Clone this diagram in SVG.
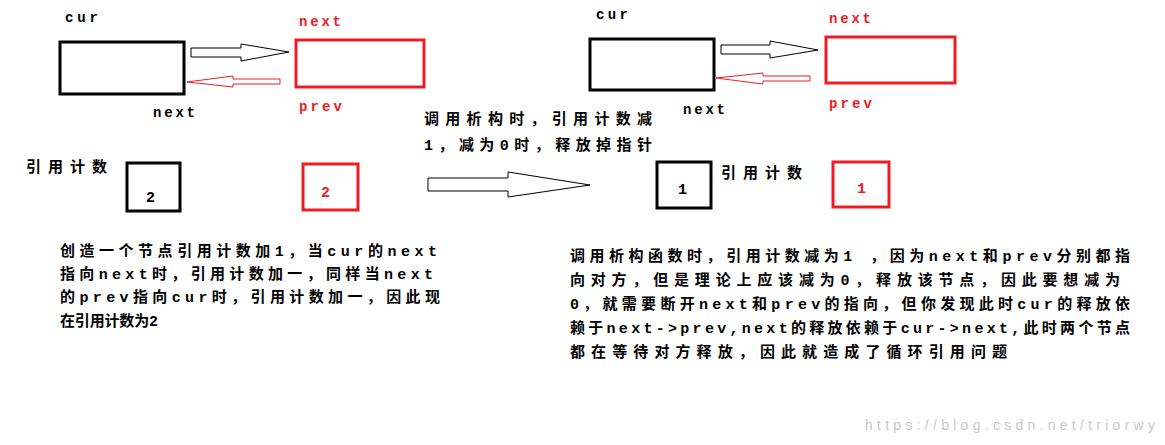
<svg xmlns="http://www.w3.org/2000/svg" width="1165" height="445" viewBox="0 0 1165 445">
<style>
.b{fill:none;stroke:#000;stroke-width:3}
.r{fill:none;stroke:#ed1c24;stroke-width:3}
.m{font-family:"Liberation Mono",monospace;font-weight:bold;font-size:14px}
.c{font-family:"Liberation Mono","Noto Sans CJK SC",monospace;font-size:15px;fill:#000;font-weight:bold}
.red{fill:#ed1c24}
.ar{fill:#fff;stroke:#000;stroke-width:1}
.arr{fill:#fff;stroke:#ed1c24;stroke-width:1}
</style>
<rect width="1165" height="445" fill="#fff"/>
<g id="left-cur"><rect class="b" x="60" y="42" width="124" height="52"/><text class="m" x="65" y="22" textLength="33">cur</text><text class="m" x="153" y="117" textLength="42">next</text></g>
<g id="left-next"><rect class="r" x="296" y="40" width="128" height="47"/><text class="m red" x="299" y="26" textLength="42">next</text><text class="m red" x="299" y="111" textLength="43">prev</text></g>
<g id="left-count-cur"><rect class="b" x="127" y="163" width="53" height="48"/><text class="c" x="146" y="202" font-weight="normal">2</text></g>
<g id="left-count-next"><rect class="r" x="303" y="164" width="55" height="46"/><text class="c red" x="321" y="197" font-weight="normal">2</text></g>
<text class="c" x="26" y="172" textLength="81">引用计数</text>
<g id="right-cur"><rect class="b" x="590" y="39" width="124" height="51"/><text class="m" x="596" y="19" textLength="32">cur</text><text class="m" x="683" y="114" textLength="42">next</text></g>
<g id="right-next"><rect class="r" x="826" y="37" width="129" height="46"/><text class="m red" x="829" y="23" textLength="42">next</text><text class="m red" x="829" y="108" textLength="43">prev</text></g>
<g id="right-count-cur"><rect class="b" x="657" y="162" width="54" height="46"/><text class="c" x="678" y="194" font-weight="normal">1</text></g>
<g id="right-count-next"><rect class="r" x="833" y="162" width="56" height="45"/><text class="c red" x="857" y="193" font-weight="normal">1</text></g>
<text class="c" x="721" y="178" textLength="81">引用计数</text>
<g id="connectors">
<polygon class="ar" points="191,48 241,48 241,44 289,52 241,61 241,57 191,57"/>
<polygon class="arr" points="280,79 233,79 233,76 187,82 233,87 233,84 280,84"/>
<polygon class="ar" points="428,178 508,178 508,172 590,185 508,197 508,191 428,191"/>
<polygon class="ar" points="721,45 770,45 770,41 818,50 770,58 770,54 721,54"/>
<polygon class="arr" points="810,76 763,76 763,73 716,78 763,84 763,81 810,81"/>
</g>
<g class="c"><text x="424" y="124" textLength="228">调用析构时，引用计数减</text><text x="424" y="150" textLength="228">1，减为0时，释放掉指针</text></g>
<g class="c">
<text x="60" y="256" textLength="377">创造一个节点引用计数加1，当cur的next</text>
<text x="60" y="279" textLength="373">指向next时，引用计数加一，同样当next</text>
<text x="60" y="302" textLength="380">的prev指向cur时，引用计数加一，因此现</text>
<text x="60" y="326" textLength="98">在引用计数为2</text>
<text x="570" y="261" textLength="560">调用析构函数时，引用计数减为1 ，因为next和prev分别都指</text>
<text x="570" y="285" textLength="550">向对方，但是理论上应该减为0，释放该节点，因此要想减为</text>
<text x="570" y="309" textLength="560">0，就需要断开next和prev的指向，但你发现此时cur的释放依</text>
<text x="570" y="333" textLength="560">赖于next-&gt;prev,next的释放依赖于cur-&gt;next,此时两个节点</text>
<text x="570" y="357" textLength="437">都在等待对方释放，因此就造成了循环引用问题</text>
</g>
<text x="865" y="430" font-family="Liberation Sans,sans-serif" font-size="14" fill="#c8c8c8" textLength="290">https://blog.csdn.net/triorwy</text>
</svg>
